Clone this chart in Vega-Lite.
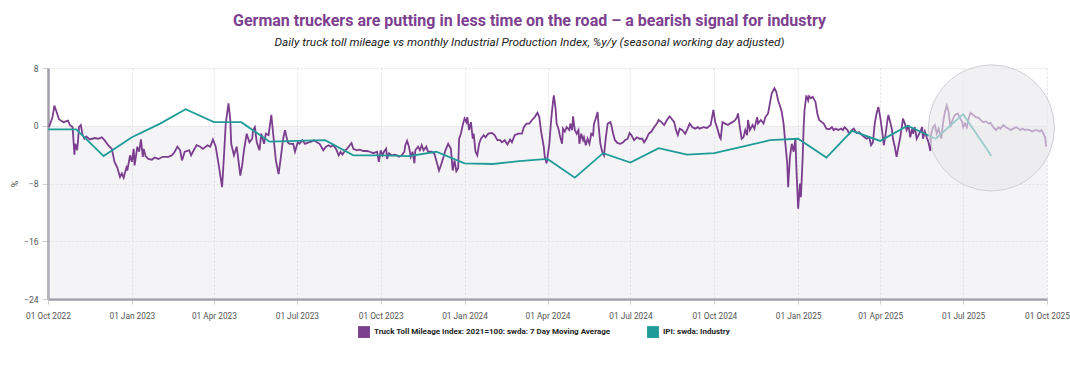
{
  "$schema": "https://vega.github.io/schema/vega-lite/v6.json",
  "width": 999,
  "height": 231,
  "autosize": {"type": "none"},
  "padding": {"left": 48, "right": 23, "top": 68, "bottom": 66},
  "background": "white",
  "title": {
    "text": "German truckers are putting in less time on the road – a bearish signal for industry",
    "subtitle": "Daily truck toll mileage vs monthly Industrial Production Index, %y/y (seasonal working day adjusted)",
    "anchor": "middle",
    "dx": -18,
    "offset": 14,
    "font": "Roboto",
    "fontSize": 16,
    "fontWeight": "bold",
    "color": "#7d3f8f",
    "subtitleFont": "Roboto",
    "subtitleFontSize": 11.8,
    "subtitleFontStyle": "italic",
    "subtitleColor": "#222222",
    "subtitlePadding": 8
  },
  "datasets": {
    "truck": [
      {"d":"2022-10-02","v":-0.2},{"d":"2022-10-06","v":1.2},{"d":"2022-10-08","v":2.8},{"d":"2022-10-11","v":1.7},{"d":"2022-10-13","v":0.9},{"d":"2022-10-18","v":0.5},{"d":"2022-10-23","v":0.7},{"d":"2022-10-25","v":0.1},{"d":"2022-10-28","v":-0.2},{"d":"2022-10-30","v":-4.0},{"d":"2022-10-31","v":-2.5},
      {"d":"2022-11-02","v":-3.4},{"d":"2022-11-03","v":-2.0},{"d":"2022-11-04","v":-0.2},{"d":"2022-11-06","v":0.1},{"d":"2022-11-08","v":-1.3},{"d":"2022-11-10","v":-1.8},{"d":"2022-11-12","v":-1.5},{"d":"2022-11-16","v":-1.9},{"d":"2022-11-21","v":-1.7},{"d":"2022-11-25","v":-1.8},{"d":"2022-11-29","v":-1.6},
      {"d":"2022-12-02","v":-2.0},{"d":"2022-12-06","v":-2.7},{"d":"2022-12-10","v":-3.2},{"d":"2022-12-13","v":-5.0},{"d":"2022-12-16","v":-5.8},{"d":"2022-12-19","v":-7.1},{"d":"2022-12-21","v":-6.6},{"d":"2022-12-23","v":-7.2},{"d":"2022-12-26","v":-5.8},{"d":"2022-12-27","v":-6.2},{"d":"2022-12-30","v":-4.1},
      {"d":"2023-01-01","v":-5.0},{"d":"2023-01-03","v":-3.2},{"d":"2023-01-04","v":-5.5},{"d":"2023-01-07","v":-2.9},{"d":"2023-01-09","v":-3.6},{"d":"2023-01-11","v":-1.9},{"d":"2023-01-13","v":-4.3},{"d":"2023-01-14","v":-3.2},{"d":"2023-01-16","v":-4.2},{"d":"2023-01-19","v":-4.6},{"d":"2023-01-23","v":-4.7},{"d":"2023-01-26","v":-4.4},{"d":"2023-01-30","v":-4.6},
      {"d":"2023-02-04","v":-4.3},{"d":"2023-02-10","v":-4.3},{"d":"2023-02-14","v":-4.1},{"d":"2023-02-17","v":-3.6},{"d":"2023-02-20","v":-2.9},{"d":"2023-02-23","v":-3.4},{"d":"2023-02-25","v":-4.8},{"d":"2023-02-28","v":-3.6},
      {"d":"2023-03-05","v":-3.4},{"d":"2023-03-07","v":-4.1},{"d":"2023-03-09","v":-3.6},{"d":"2023-03-13","v":-2.7},{"d":"2023-03-17","v":-2.9},{"d":"2023-03-20","v":-3.2},{"d":"2023-03-25","v":-2.7},{"d":"2023-03-28","v":-2.9},{"d":"2023-03-31","v":-1.9},
      {"d":"2023-04-03","v":-2.9},{"d":"2023-04-06","v":-5.2},{"d":"2023-04-10","v":-8.5},{"d":"2023-04-12","v":-4.3},{"d":"2023-04-14","v":0.3},{"d":"2023-04-17","v":3.1},{"d":"2023-04-19","v":0.8},{"d":"2023-04-20","v":-2.5},{"d":"2023-04-23","v":-4.1},{"d":"2023-04-26","v":-2.9},{"d":"2023-04-30","v":-6.9},
      {"d":"2023-05-02","v":-5.5},{"d":"2023-05-04","v":-3.4},{"d":"2023-05-07","v":-1.1},{"d":"2023-05-10","v":-2.3},{"d":"2023-05-13","v":-1.8},{"d":"2023-05-14","v":-0.6},{"d":"2023-05-16","v":-0.2},{"d":"2023-05-18","v":-2.3},{"d":"2023-05-21","v":-3.4},{"d":"2023-05-23","v":-1.1},{"d":"2023-05-26","v":-2.5},{"d":"2023-05-28","v":-1.1},{"d":"2023-05-31","v":-1.3},
      {"d":"2023-06-03","v":1.5},{"d":"2023-06-05","v":-1.1},{"d":"2023-06-08","v":-4.8},{"d":"2023-06-11","v":-6.7},{"d":"2023-06-13","v":-4.8},{"d":"2023-06-16","v":-1.8},{"d":"2023-06-18","v":-0.6},{"d":"2023-06-21","v":-2.3},{"d":"2023-06-23","v":-2.5},{"d":"2023-06-27","v":-2.5},{"d":"2023-06-29","v":-3.6},
      {"d":"2023-07-02","v":-2.3},{"d":"2023-07-04","v":-2.5},{"d":"2023-07-07","v":-2.0},{"d":"2023-07-10","v":-2.5},{"d":"2023-07-14","v":-2.3},{"d":"2023-07-17","v":-2.2},{"d":"2023-07-20","v":-2.0},{"d":"2023-07-23","v":-2.3},{"d":"2023-07-26","v":-2.5},{"d":"2023-07-30","v":-3.4},
      {"d":"2023-08-02","v":-2.9},{"d":"2023-08-05","v":-2.7},{"d":"2023-08-07","v":-2.9},{"d":"2023-08-10","v":-2.7},{"d":"2023-08-13","v":-3.2},{"d":"2023-08-16","v":-4.1},{"d":"2023-08-18","v":-3.6},{"d":"2023-08-20","v":-4.0},{"d":"2023-08-23","v":-3.4},{"d":"2023-08-25","v":-3.2},{"d":"2023-08-28","v":-2.7},{"d":"2023-08-30","v":-2.4},
      {"d":"2023-09-01","v":-3.2},{"d":"2023-09-05","v":-3.4},{"d":"2023-09-08","v":-3.3},{"d":"2023-09-12","v":-3.5},{"d":"2023-09-16","v":-3.5},{"d":"2023-09-19","v":-3.6},{"d":"2023-09-23","v":-3.8},{"d":"2023-09-27","v":-3.6},{"d":"2023-09-29","v":-5.0},
      {"d":"2023-10-01","v":-3.4},{"d":"2023-10-03","v":-4.1},{"d":"2023-10-05","v":-3.5},{"d":"2023-10-07","v":-3.2},{"d":"2023-10-08","v":-4.6},{"d":"2023-10-10","v":-3.8},{"d":"2023-10-13","v":-4.1},{"d":"2023-10-16","v":-4.0},{"d":"2023-10-19","v":-4.1},{"d":"2023-10-21","v":-4.3},{"d":"2023-10-24","v":-4.1},{"d":"2023-10-27","v":-3.6},{"d":"2023-10-28","v":-2.7},{"d":"2023-10-30","v":-2.1},
      {"d":"2023-11-01","v":-2.9},{"d":"2023-11-03","v":-4.3},{"d":"2023-11-05","v":-3.6},{"d":"2023-11-07","v":-5.2},{"d":"2023-11-08","v":-3.4},{"d":"2023-11-11","v":-2.9},{"d":"2023-11-13","v":-3.4},{"d":"2023-11-15","v":-2.7},{"d":"2023-11-17","v":-3.4},{"d":"2023-11-20","v":-2.9},{"d":"2023-11-22","v":-3.6},{"d":"2023-11-26","v":-3.6},{"d":"2023-11-29","v":-3.9},
      {"d":"2023-12-01","v":-4.8},{"d":"2023-12-04","v":-6.2},{"d":"2023-12-06","v":-5.5},{"d":"2023-12-09","v":-4.3},{"d":"2023-12-11","v":-3.4},{"d":"2023-12-14","v":-2.5},{"d":"2023-12-17","v":-3.2},{"d":"2023-12-19","v":-6.2},{"d":"2023-12-21","v":-4.8},{"d":"2023-12-23","v":-6.3},{"d":"2023-12-25","v":-5.9},{"d":"2023-12-26","v":-1.8},{"d":"2023-12-28","v":-1.1},{"d":"2023-12-30","v":0.1},
      {"d":"2024-01-01","v":1.0},{"d":"2024-01-03","v":0.5},{"d":"2024-01-04","v":1.2},{"d":"2024-01-06","v":-0.6},{"d":"2024-01-08","v":0.5},{"d":"2024-01-10","v":-1.8},{"d":"2024-01-11","v":-1.1},{"d":"2024-01-13","v":-3.6},{"d":"2024-01-15","v":-4.1},{"d":"2024-01-17","v":-2.5},{"d":"2024-01-19","v":-1.8},{"d":"2024-01-22","v":-1.3},{"d":"2024-01-24","v":-1.6},{"d":"2024-01-27","v":-1.1},{"d":"2024-01-31","v":-1.0},
      {"d":"2024-02-03","v":-1.3},{"d":"2024-02-06","v":-2.0},{"d":"2024-02-09","v":-2.0},{"d":"2024-02-11","v":-2.3},{"d":"2024-02-14","v":-2.0},{"d":"2024-02-17","v":-2.6},{"d":"2024-02-20","v":-1.9},{"d":"2024-02-22","v":-2.3},{"d":"2024-02-25","v":-1.3},{"d":"2024-02-29","v":-1.1},
      {"d":"2024-03-04","v":-1.1},{"d":"2024-03-06","v":-0.2},{"d":"2024-03-09","v":0.3},{"d":"2024-03-12","v":0.3},{"d":"2024-03-15","v":0.8},{"d":"2024-03-18","v":1.2},{"d":"2024-03-21","v":1.8},{"d":"2024-03-23","v":1.2},{"d":"2024-03-25","v":-0.8},{"d":"2024-03-28","v":-3.0},{"d":"2024-03-29","v":-4.3},{"d":"2024-03-31","v":-5.2},
      {"d":"2024-04-03","v":-2.5},{"d":"2024-04-05","v":0.8},{"d":"2024-04-07","v":3.3},{"d":"2024-04-08","v":4.2},{"d":"2024-04-10","v":2.2},{"d":"2024-04-11","v":0.3},{"d":"2024-04-13","v":-0.4},{"d":"2024-04-15","v":-1.6},{"d":"2024-04-17","v":-2.5},{"d":"2024-04-18","v":-0.4},{"d":"2024-04-20","v":-0.8},{"d":"2024-04-22","v":-0.2},{"d":"2024-04-25","v":-0.6},{"d":"2024-04-26","v":0.3},{"d":"2024-04-28","v":-0.6},{"d":"2024-04-29","v":1.3},
      {"d":"2024-05-01","v":-0.6},{"d":"2024-05-03","v":-1.1},{"d":"2024-05-05","v":-0.6},{"d":"2024-05-06","v":-2.5},{"d":"2024-05-08","v":-1.1},{"d":"2024-05-10","v":-2.0},{"d":"2024-05-11","v":-1.6},{"d":"2024-05-13","v":-2.7},{"d":"2024-05-15","v":-1.8},{"d":"2024-05-17","v":-2.5},{"d":"2024-05-19","v":-1.1},{"d":"2024-05-21","v":-1.3},{"d":"2024-05-22","v":0.3},{"d":"2024-05-24","v":1.0},{"d":"2024-05-26","v":1.9},{"d":"2024-05-27","v":0.1},{"d":"2024-05-29","v":-2.5},{"d":"2024-05-31","v":-3.6},
      {"d":"2024-06-02","v":-4.1},{"d":"2024-06-04","v":-1.6},{"d":"2024-06-06","v":0.3},{"d":"2024-06-09","v":0.5},{"d":"2024-06-10","v":0.1},{"d":"2024-06-12","v":-1.1},{"d":"2024-06-14","v":-2.0},{"d":"2024-06-17","v":-2.4},{"d":"2024-06-20","v":-2.5},{"d":"2024-06-23","v":-2.3},{"d":"2024-06-25","v":-2.0},{"d":"2024-06-28","v":-1.8},{"d":"2024-06-30","v":-1.0},
      {"d":"2024-07-02","v":-1.3},{"d":"2024-07-05","v":-2.0},{"d":"2024-07-08","v":-1.6},{"d":"2024-07-11","v":-1.8},{"d":"2024-07-14","v":-1.8},{"d":"2024-07-16","v":-2.3},{"d":"2024-07-19","v":-1.7},{"d":"2024-07-21","v":-1.1},{"d":"2024-07-24","v":-0.8},{"d":"2024-07-27","v":-0.2},{"d":"2024-07-30","v":0.3},
      {"d":"2024-08-01","v":0.8},{"d":"2024-08-04","v":0.5},{"d":"2024-08-07","v":0.1},{"d":"2024-08-10","v":0.8},{"d":"2024-08-13","v":1.3},{"d":"2024-08-15","v":1.0},{"d":"2024-08-18","v":0.5},{"d":"2024-08-20","v":-0.6},{"d":"2024-08-22","v":-1.3},{"d":"2024-08-24","v":-0.4},{"d":"2024-08-27","v":-0.6},{"d":"2024-08-30","v":-1.1},
      {"d":"2024-09-01","v":-0.6},{"d":"2024-09-04","v":0.3},{"d":"2024-09-07","v":-0.2},{"d":"2024-09-10","v":-0.4},{"d":"2024-09-13","v":-0.2},{"d":"2024-09-15","v":-0.4},{"d":"2024-09-19","v":-0.2},{"d":"2024-09-23","v":-0.3},{"d":"2024-09-27","v":0.1},{"d":"2024-09-30","v":2.2},
      {"d":"2024-10-02","v":0.5},{"d":"2024-10-04","v":-0.2},{"d":"2024-10-07","v":-1.6},{"d":"2024-10-08","v":-1.8},{"d":"2024-10-10","v":0.5},{"d":"2024-10-13","v":0.3},{"d":"2024-10-16","v":0.1},{"d":"2024-10-18","v":0.3},{"d":"2024-10-21","v":0.5},{"d":"2024-10-24","v":0.8},{"d":"2024-10-26","v":1.2},{"d":"2024-10-27","v":1.7},{"d":"2024-10-29","v":-0.2},{"d":"2024-10-31","v":-1.8},
      {"d":"2024-11-02","v":-1.6},{"d":"2024-11-04","v":-0.6},{"d":"2024-11-06","v":-1.3},{"d":"2024-11-07","v":0.8},{"d":"2024-11-09","v":-0.6},{"d":"2024-11-12","v":0.1},{"d":"2024-11-14","v":-0.4},{"d":"2024-11-17","v":1.2},{"d":"2024-11-18","v":0.3},{"d":"2024-11-21","v":0.8},{"d":"2024-11-24","v":0.3},{"d":"2024-11-26","v":1.2},{"d":"2024-11-29","v":1.7},
      {"d":"2024-12-01","v":3.1},{"d":"2024-12-03","v":4.5},{"d":"2024-12-06","v":5.2},{"d":"2024-12-08","v":4.7},{"d":"2024-12-10","v":3.5},{"d":"2024-12-12","v":2.8},{"d":"2024-12-14","v":1.9},{"d":"2024-12-16","v":0.3},{"d":"2024-12-18","v":-2.5},{"d":"2024-12-20","v":-5.2},{"d":"2024-12-21","v":-8.5},{"d":"2024-12-23","v":-4.3},{"d":"2024-12-25","v":-2.5},{"d":"2024-12-27","v":-3.6},{"d":"2024-12-29","v":-1.8},{"d":"2024-12-30","v":-5.7},
      {"d":"2025-01-01","v":-11.5},{"d":"2025-01-03","v":-8.0},{"d":"2025-01-04","v":-9.9},{"d":"2025-01-06","v":-4.3},{"d":"2025-01-07","v":-0.2},{"d":"2025-01-08","v":2.2},{"d":"2025-01-10","v":4.2},{"d":"2025-01-12","v":3.5},{"d":"2025-01-13","v":4.1},{"d":"2025-01-15","v":3.8},{"d":"2025-01-17","v":4.0},{"d":"2025-01-20","v":3.3},{"d":"2025-01-22","v":1.7},{"d":"2025-01-24","v":0.8},{"d":"2025-01-27","v":0.5},{"d":"2025-01-29","v":0.3},
      {"d":"2025-02-01","v":-0.4},{"d":"2025-02-04","v":-0.5},{"d":"2025-02-07","v":-0.2},{"d":"2025-02-09","v":-0.6},{"d":"2025-02-11","v":-0.4},{"d":"2025-02-14","v":-0.6},{"d":"2025-02-17","v":-0.4},{"d":"2025-02-19","v":-0.6},{"d":"2025-02-21","v":-0.2},{"d":"2025-02-24","v":-0.6},{"d":"2025-02-26","v":-1.1},
      {"d":"2025-03-01","v":-0.6},{"d":"2025-03-03","v":-0.4},{"d":"2025-03-06","v":-1.0},{"d":"2025-03-09","v":-0.9},{"d":"2025-03-12","v":-1.3},{"d":"2025-03-15","v":-1.6},{"d":"2025-03-17","v":-1.8},{"d":"2025-03-20","v":-1.6},{"d":"2025-03-22","v":-2.7},{"d":"2025-03-24","v":-2.3},{"d":"2025-03-26","v":0.3},{"d":"2025-03-28","v":1.7},{"d":"2025-03-30","v":2.6},
      {"d":"2025-04-01","v":1.2},{"d":"2025-04-03","v":-0.6},{"d":"2025-04-05","v":-2.7},{"d":"2025-04-07","v":-1.1},{"d":"2025-04-09","v":0.8},{"d":"2025-04-10","v":1.5},{"d":"2025-04-12","v":0.5},{"d":"2025-04-14","v":-0.6},{"d":"2025-04-15","v":-1.8},{"d":"2025-04-17","v":-2.9},{"d":"2025-04-19","v":-4.3},{"d":"2025-04-21","v":-2.9},{"d":"2025-04-23","v":-1.6},{"d":"2025-04-25","v":0.1},{"d":"2025-04-26","v":1.0},{"d":"2025-04-28","v":0.3},{"d":"2025-04-30","v":-0.6},
      {"d":"2025-05-02","v":0.1},{"d":"2025-05-04","v":-1.6},{"d":"2025-05-06","v":-0.4},{"d":"2025-05-07","v":-1.1},{"d":"2025-05-09","v":-0.2},{"d":"2025-05-11","v":-1.8},{"d":"2025-05-13","v":-1.3},{"d":"2025-05-15","v":-0.8},{"d":"2025-05-17","v":-0.2},{"d":"2025-05-18","v":-1.8},{"d":"2025-05-20","v":-0.8},{"d":"2025-05-22","v":-1.6},{"d":"2025-05-24","v":-2.3},{"d":"2025-05-26","v":-3.5},{"d":"2025-05-27","v":-1.1},{"d":"2025-05-29","v":-0.2},{"d":"2025-05-31","v":0.1},
      {"d":"2025-06-02","v":-1.1},{"d":"2025-06-04","v":-0.4},{"d":"2025-06-06","v":-1.3},{"d":"2025-06-07","v":-1.8},{"d":"2025-06-09","v":0.5},{"d":"2025-06-11","v":1.9},{"d":"2025-06-13","v":2.8},{"d":"2025-06-15","v":1.9},{"d":"2025-06-17","v":-0.2},{"d":"2025-06-18","v":0.3},{"d":"2025-06-20","v":1.0},{"d":"2025-06-22","v":1.5},{"d":"2025-06-25","v":1.7},{"d":"2025-06-27","v":1.2},{"d":"2025-06-30","v":0.5},
      {"d":"2025-07-01","v":-0.2},{"d":"2025-07-03","v":0.3},{"d":"2025-07-05","v":-0.2},{"d":"2025-07-07","v":1.0},{"d":"2025-07-09","v":1.8},{"d":"2025-07-10","v":1.7},{"d":"2025-07-12","v":1.5},{"d":"2025-07-15","v":1.2},{"d":"2025-07-18","v":1.1},{"d":"2025-07-20","v":0.8},{"d":"2025-07-23","v":0.5},{"d":"2025-07-26","v":0.6},{"d":"2025-07-29","v":0.3},{"d":"2025-07-31","v":0.4},
      {"d":"2025-08-03","v":-0.2},{"d":"2025-08-06","v":-0.6},{"d":"2025-08-09","v":-0.2},{"d":"2025-08-11","v":-0.4},{"d":"2025-08-14","v":0.1},{"d":"2025-08-17","v":-0.2},{"d":"2025-08-20","v":-0.4},{"d":"2025-08-22","v":-0.6},{"d":"2025-08-25","v":-0.4},{"d":"2025-08-28","v":-0.2},{"d":"2025-08-31","v":-0.4},
      {"d":"2025-09-02","v":-0.6},{"d":"2025-09-04","v":-0.4},{"d":"2025-09-07","v":-0.6},{"d":"2025-09-09","v":-0.5},{"d":"2025-09-12","v":-0.6},{"d":"2025-09-15","v":-0.8},{"d":"2025-09-18","v":-0.6},{"d":"2025-09-20","v":-0.6},{"d":"2025-09-23","v":-0.8},{"d":"2025-09-25","v":-0.6},{"d":"2025-09-27","v":-1.1},{"d":"2025-09-29","v":-1.6},{"d":"2025-09-30","v":-2.9}
    ],
    "ipi": [
      {"d":"2022-10-01","v":-0.5},{"d":"2022-11-01","v":-0.5},{"d":"2022-12-01","v":-4.2},{"d":"2023-01-01","v":-1.6},{"d":"2023-02-01","v":0.3},{"d":"2023-03-01","v":2.3},{"d":"2023-04-01","v":0.5},{"d":"2023-05-01","v":0.5},{"d":"2023-06-01","v":-2.2},{"d":"2023-07-01","v":-2.1},{"d":"2023-08-01","v":-2.0},{"d":"2023-09-01","v":-4.1},{"d":"2023-10-01","v":-4.1},{"d":"2023-11-01","v":-4.2},{"d":"2023-12-01","v":-3.6},
      {"d":"2024-01-01","v":-5.2},{"d":"2024-02-01","v":-5.3},{"d":"2024-03-01","v":-4.9},{"d":"2024-04-01","v":-4.6},{"d":"2024-05-01","v":-7.2},{"d":"2024-06-01","v":-3.8},{"d":"2024-07-01","v":-5.1},{"d":"2024-08-01","v":-3.1},{"d":"2024-09-01","v":-4.0},{"d":"2024-10-01","v":-3.8},{"d":"2024-11-01","v":-2.9},{"d":"2024-12-01","v":-2.0},
      {"d":"2025-01-01","v":-1.8},{"d":"2025-02-01","v":-4.4},{"d":"2025-03-01","v":-0.7},{"d":"2025-04-01","v":-2.1},{"d":"2025-05-01","v":0.0},{"d":"2025-06-01","v":-1.8},{"d":"2025-07-01","v":1.6},{"d":"2025-08-01","v":-4.2}
    ],
    "highlight": [{"d":"2025-08-01","v":-0.3}]
  },
  "layer": [
    {
      "data": {"name": "highlight"},
      "mark": {"type": "rect", "fill": "#dcdce6", "fillOpacity": 0.3, "strokeWidth": 0},
      "encoding": {
        "x": {"datum": {"year": 2022, "month": 10, "date": 1, "utc": true}, "type": "temporal"},
        "x2": {"datum": {"year": 2025, "month": 10, "date": 1, "utc": true}},
        "y": {"datum": 0, "type": "quantitative"},
        "y2": {"datum": -24}
      }
    },
    {
      "data": {"name": "truck"},
      "mark": {"type": "line", "strokeWidth": 1.8},
      "encoding": {
        "x": {"field": "d", "type": "temporal"},
        "y": {"field": "v", "type": "quantitative"},
        "color": {"datum": "Truck Toll Mileage Index: 2021=100: swda: 7 Day Moving Average"}
      }
    },
    {
      "data": {"name": "ipi"},
      "mark": {"type": "line", "strokeWidth": 1.8},
      "encoding": {
        "x": {"field": "d", "type": "temporal"},
        "y": {"field": "v", "type": "quantitative"},
        "color": {"datum": "IPI: swda: Industry"}
      }
    },
    {
      "data": {"name": "highlight"},
      "mark": {"type": "point", "shape": "circle", "size": 15900, "filled": true, "fill": "#e8e8ec", "fillOpacity": 0.62, "stroke": "#cfcfd6", "strokeWidth": 1, "strokeOpacity": 1, "opacity": 1},
      "encoding": {
        "x": {"field": "d", "type": "temporal"},
        "y": {"field": "v", "type": "quantitative"}
      }
    }
  ],
  "encoding": {
    "x": {
      "type": "temporal",
      "scale": {"type": "utc", "domain": [{"year": 2022, "month": 10, "date": 1, "utc": true}, {"year": 2025, "month": 10, "date": 1, "utc": true}], "nice": false},
      "axis": {
        "title": null,
        "format": "%d %b %Y",
        "values": [
          {"year": 2022, "month": 10, "date": 1, "utc": true},
          {"year": 2023, "month": 1, "date": 1, "utc": true},
          {"year": 2023, "month": 4, "date": 1, "utc": true},
          {"year": 2023, "month": 7, "date": 1, "utc": true},
          {"year": 2023, "month": 10, "date": 1, "utc": true},
          {"year": 2024, "month": 1, "date": 1, "utc": true},
          {"year": 2024, "month": 4, "date": 1, "utc": true},
          {"year": 2024, "month": 7, "date": 1, "utc": true},
          {"year": 2024, "month": 10, "date": 1, "utc": true},
          {"year": 2025, "month": 1, "date": 1, "utc": true},
          {"year": 2025, "month": 4, "date": 1, "utc": true},
          {"year": 2025, "month": 7, "date": 1, "utc": true},
          {"year": 2025, "month": 10, "date": 1, "utc": true}
        ],
        "labelOverlap": false,
        "labelBound": false,
        "labelFlush": false,
        "labelPadding": 7,
        "labelFontSize": 8.3,
        "labelColor": "#555555",
        "tickSize": 5,
        "tickColor": "#d0d0d0",
        "domainColor": "#a39eab",
        "domainWidth": 2.5,
        "grid": true,
        "gridColor": "#e2e2e6",
        "gridDash": [2, 2]
      }
    },
    "y": {
      "type": "quantitative",
      "scale": {"domain": [-24, 8], "nice": false, "zero": false},
      "axis": {
        "title": "%",
        "titleFontSize": 9,
        "titleFontWeight": "normal",
        "titleColor": "#444444",
        "titlePadding": 4,
        "values": [-24, -16, -8, 0, 8],
        "labelFontSize": 8.5,
        "labelColor": "#555555",
        "labelPadding": 4,
        "tickSize": 6,
        "tickColor": "#d0d0d0",
        "domainColor": "#a39eab",
        "domainWidth": 2.5,
        "grid": true,
        "gridColor": "#e4e4e8",
        "gridDash": [2, 2]
      }
    },
    "color": {
      "type": "nominal",
      "scale": {
        "domain": ["Truck Toll Mileage Index: 2021=100: swda: 7 Day Moving Average", "IPI: swda: Industry"],
        "range": ["#7b3d8e", "#1f9b98"]
      },
      "legend": {
        "title": null,
        "orient": "none",
        "legendX": 310,
        "legendY": 258,
        "direction": "horizontal",
        "symbolType": "square",
        "symbolSize": 140,
        "symbolStrokeWidth": 0,
        "labelFont": "Roboto",
        "labelFontSize": 8,
        "labelFontWeight": "bold",
        "labelColor": "#222222",
        "labelLimit": 400,
        "labelOffset": 4,
        "columnPadding": 36,
        "encode": {
          "symbols": {"update": {"fill": {"scale": "color", "field": "value"}, "strokeWidth": {"value": 0}, "opacity": {"value": 1}}}
        }
      }
    }
  },
  "config": {
    "view": {"stroke": null},
    "font": "Roboto"
  }
}
